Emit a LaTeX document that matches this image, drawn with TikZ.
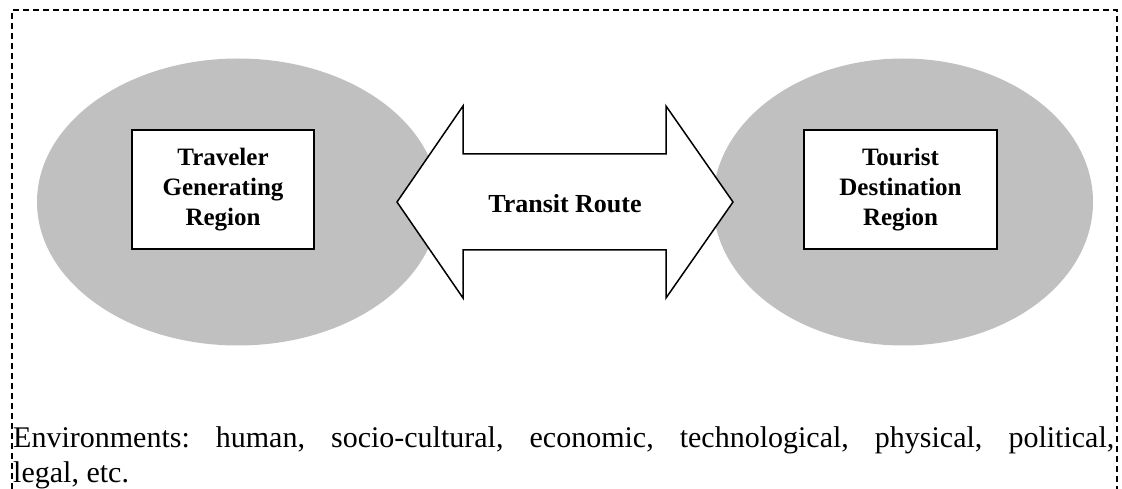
\documentclass[tikz,border=0pt]{standalone}
\usepackage{fontspec}
\setmainfont{Liberation Serif}
\usetikzlibrary{shapes.geometric}
\definecolor{regiongray}{RGB}{192,192,192}
\begin{document}
\begin{tikzpicture}[x=1pt,y=-1pt,
  region/.style={ellipse,fill=regiongray,draw=none,inner sep=0pt,minimum height=287pt},
  labelbox/.style={draw=black,fill=white,line width=1.6pt,inner sep=0pt,
     font=\fontsize{25}{30}\selectfont\bfseries,align=center},
  routearrow/.style={draw=black,fill=white,line width=1.5pt,line join=miter},
  frame/.style={draw=black,line width=1.8pt,dash pattern=on 6pt off 4pt}
]
\useasboundingbox (0,0) rectangle (1122,489);
% dashed frame, open at bottom
\coordinate (fbl) at (12,489);
\coordinate (ftl) at (12,10);
\coordinate (ftr) at (1117,10);
\coordinate (fbr) at (1117,489);
\draw[frame] (fbl) -- (ftl) -- (ftr) -- (fbr);
% regions
\node[region,minimum width=402pt] (gen) at (238,202) {};
\node[region,minimum width=380pt] (dest) at (903,202) {};
% transit arrow
\coordinate (tl) at (397,202);
\coordinate (tr) at (733,202);
\draw[routearrow] (tl) -- (463,106) -- (463,154) -- (666,154) -- (666,106) -- (tr)
  -- (666,298) -- (666,250) -- (463,250) -- (463,298) -- cycle;
\node[font=\fontsize{26}{30}\selectfont\bfseries] (route) at (565,204) {Transit Route};
% boxes
\node[labelbox,minimum width=182pt,minimum height=119pt] (genbox) at (223,189.5)
  {Traveler\\Generating\\Region};
\node[labelbox,minimum width=193pt,minimum height=119pt] (destbox) at (900.5,189.5)
  {Tourist\\Destination\\Region};
% environment text
\node[anchor=north west,inner sep=0pt,text width=1101pt,align=justify,
  font=\fontsize{30}{35}\selectfont\frenchspacing] (env) at (13,426)
  {Environments: human, socio-cultural, economic, technological, physical, political,\linebreak legal, etc.};
\end{tikzpicture}
\end{document}
